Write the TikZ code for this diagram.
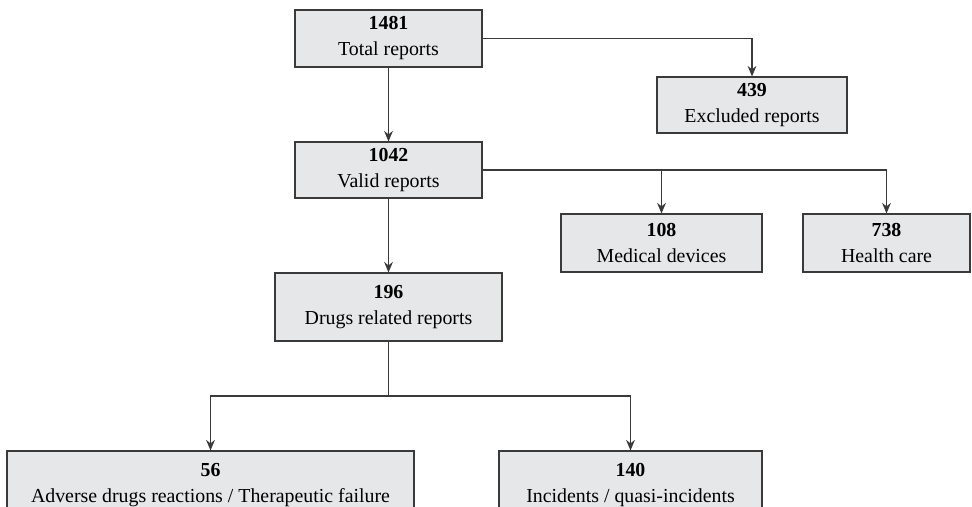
\documentclass[tikz,border=0pt]{standalone}
\usepackage{fontspec}
\setmainfont{Liberation Serif}
\usetikzlibrary{arrows.meta}
\definecolor{boxgray}{HTML}{E6E7E8}
\definecolor{linegray}{HTML}{3A3A3A}

\begin{document}
\begin{tikzpicture}[
		box/.style={draw=linegray, line width=0.6pt, fill=boxgray, align=center, inner sep=0pt,
			font=\fontsize{11.3}{14.8}\selectfont},
		link/.style={draw=linegray, line width=0.6pt, -{Stealth[length=6pt,width=5pt]}}
	]
			\useasboundingbox (0, 0) rectangle (19.44, 10.14);

			\draw (7.77, 9.37) 	node[box, minimum width=3.74cm, minimum height=1.14cm] 	(total) 	{\textbf{1481}\\Total reports};
			\draw (15.04, 8.04) 	node[box, minimum width=3.80cm, minimum height=1.12cm] 	(excluded) 	{\textbf{439}\\Excluded reports};
			\draw (7.77, 6.74) 	node[box, minimum width=3.74cm, minimum height=1.12cm] 	(valid) 	{\textbf{1042}\\Valid reports};
			\draw (13.23, 5.28) 	node[box, minimum width=4.02cm, minimum height=1.16cm] 	(devices) 	{\textbf{108}\\Medical devices};
			\draw (17.73, 5.28) 	node[box, minimum width=3.34cm, minimum height=1.16cm] 	(health) 	{\textbf{738}\\Health care};
			\draw (7.77, 4.00) 	node[box, minimum width=4.54cm, minimum height=1.36cm] 	(drugs) 	{\textbf{196}\\Drugs related reports};
			\draw (4.21, 0.44) 	node[box, minimum width=8.14cm, minimum height=1.36cm] 	(adverse) 	{\textbf{56}\\Adverse drugs reactions / Therapeutic failure};
			\draw (12.61, 0.44) 	node[box, minimum width=5.26cm, minimum height=1.36cm] 	(incidents) 	{\textbf{140}\\Incidents / quasi-incidents};
			\coordinate (split) at (7.77, 2.22);

			\draw[link] (total) -- (valid);
			\draw[link] (total.east) -| (excluded.north);
			\draw[link] (valid.east) -| (devices.north);
			\draw[link] (valid.east) -| (health.north);
			\draw[link] (valid) -- (drugs);
			\draw[link] (drugs.south) -- (split) -| (adverse.north);
			\draw[link] (split) -| (incidents.north);
		\end{tikzpicture}
\end{document}
